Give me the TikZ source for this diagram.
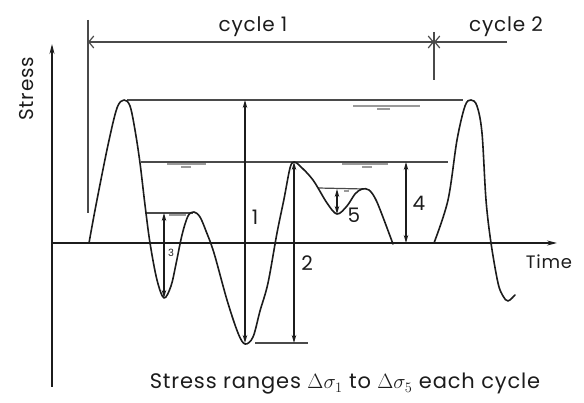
\documentclass[tikz,border=0pt]{standalone}
\usepackage{fontspec}
\setmainfont{Poppins}[LetterSpace=4]
\usetikzlibrary{arrows.meta}
\definecolor{ink}{HTML}{1C1C1C}
\definecolor{rule}{HTML}{4A4A4A}
\definecolor{wgray}{HTML}{9A9A9A}
\tikzset{
  >=Stealth,
  every node/.style={text=ink},
  sigcurve/.style={draw=ink,line width=1.6pt,line join=round,line cap=round},
  axisarr/.style={draw=ink,line width=1.3pt,-{Stealth[length=10pt,width=5pt]}},
  levelline/.style={draw=rule,line width=1.2pt},
  rangearr/.style={draw=ink,line width=1.1pt,{Stealth[length=8pt,width=4.5pt]}-{Stealth[length=8pt,width=4.5pt]}},
  cycarrow/.style={draw=rule,line width=1.2pt,-{Straight Barb[length=5pt,width=12pt]}},
  wmark/.style={draw=wgray,line width=1.3pt},
  hand/.style={font=\fontsize{20}{20}\selectfont,inner sep=1pt},
  tinylabel/.style={font=\fontsize{10}{10}\selectfont,inner sep=1pt},
}

\begin{document}
\begin{tikzpicture}[x=1pt,y=-1pt]
\useasboundingbox (0,0) rectangle (584,403);

% --- key points of the stress history
\coordinate (pkL) at (124,100);
\coordinate (pkR) at (471,100);
\coordinate (pkM) at (294,162);
\coordinate (vB) at (245,343);
\coordinate (v3) at (164,298);
\coordinate (h3) at (193,213);
\coordinate (v5) at (337,214);
\coordinate (h5) at (364,189);
\coordinate (a4) at (406,162);

% --- axes
\coordinate (org) at (52,243);
\coordinate (ybot) at (52,387);
\coordinate (ytop) at (52,44);
\coordinate (xend) at (557,243);
\draw[axisarr] (ybot) -- (ytop);
\draw[axisarr] (org) -- (xend);
\node[hand,rotate=90] (ylab) at (27,89) {Stress};
\node[hand,font=\fontsize{18}{18}\selectfont] (xlab) at (549,262) {Time};

% --- cycle marks
\coordinate (c1) at (88,42);
\coordinate (c2) at (434,42);
\coordinate (c3) at (507,42);
\draw[rule,line width=1.2pt] (88,20) -- (88,213);
\draw[rule,line width=1.2pt] (434,32) -- (434,80);
\draw[cycarrow] (c2) -- (c1);
\draw[cycarrow] (c1) -- (c2);
\draw[cycarrow] (c3) -- (c2);
\node[hand] (cyc1) at (253,27) {cycle 1};
\node[hand] (cyc2) at (506,27) {cycle 2};

% --- stress levels
\draw[levelline] (127,100) -- (463,100);
\draw[levelline] (141,162) -- (448,162);
\draw[levelline] (255,343) -- (308,343);
\draw[levelline] (145,213) -- (h3);
\draw[levelline] (318,188) -- (h5);
\draw[wmark] (353,106) -- (420,106) (377,109) -- (390,109);
\draw[wmark] (167,164) -- (206,164) (181,167) -- (191,167);
\draw[wmark] (342,164) -- (388,164) (362,167) -- (372,167);
\draw[wmark] (169,215) -- (186,215);
\draw[wmark] (344,191) -- (349,191);

% --- signal
\draw[sigcurve] plot[smooth,tension=0.55] coordinates {
  (89,243) (96,205) (108,145) (117,108) (124,100) (130,106) (135,130)
  (140,163) (145,205) (150,243) (157,280) (164,298) (171,286) (176,264)
  (182,235) (188,216) (194,212) (200,217) (206,231) (214,253) (227,300)
  (238,333) (245,344) (253,337) (260,311) (268,283) (277,233) (284,199)
  (290,168) (294,162) (300,166) (313,180) (327,203) (337,214) (347,206)
  (355,194) (362,189) (369,190) (375,198) (381,212) (393,244)};
\draw[sigcurve] plot[smooth,tension=0.55] coordinates {
  (434,243) (448,200) (457,140) (465,106) (471,100) (477,106) (482,133)
  (486,200) (491,243) (498,283) (503,296) (508,301) (515,295)};

% --- stress ranges
\draw[rangearr] (vB |- pkL) -- (vB);
\draw[rangearr] (pkM) -- (pkM |- vB);
\draw[rangearr] (v3 |- h3) -- (v3);
\draw[rangearr] (a4) -- (a4 |- org);
\draw[rangearr] (v5 |- h5) -- (v5);
\node[hand] (r1) at (255,217) {1};
\node[hand] (r2) at (307,263) {2};
\node[tinylabel] (r3) at (171,253) {3};
\node[hand] (r4) at (419,203) {4};
\node[hand] (r5) at (354,215) {5};

\node[hand,font=\fontsize{21}{21}\selectfont] (cap) at (345,384)
  {Stress ranges $\Delta\sigma_1$ to $\Delta\sigma_5$ each cycle};

\end{tikzpicture}
\end{document}
